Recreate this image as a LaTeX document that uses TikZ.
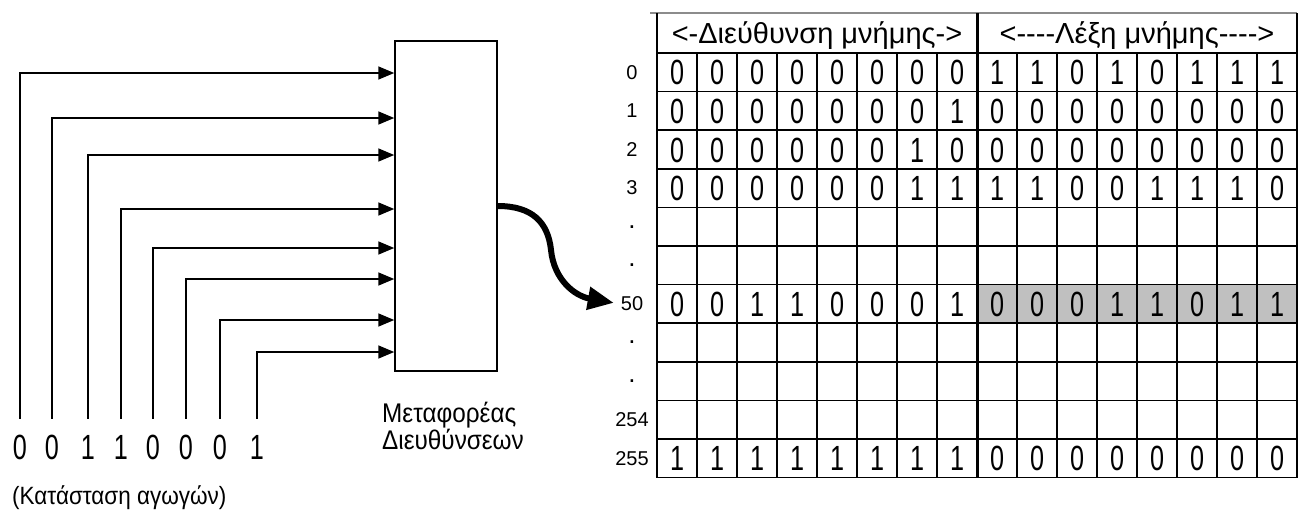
\documentclass[tikz,border=0pt]{standalone}
\usepackage{fontspec}
\setmainfont{Liberation Sans}
\newfontfamily\digitfont{Liberation Sans}[FakeStretch=0.72]
\newfontfamily\labelfont{Liberation Sans}[FakeStretch=0.9]
\usetikzlibrary{arrows.meta}
\definecolor{rowgray}{RGB}{192,192,192}
\newcommand\hy{\mbox{-}}

\begin{document}
\begin{tikzpicture}[x=1pt,y=-1pt,
  tablerule/.style={line width=1.5pt,draw=black},
  wire/.style={line width=1.6pt,-{Triangle[length=16pt,width=13pt]}},
  cellnum/.style={font=\digitfont\fontsize{35}{35}\selectfont,inner sep=0pt,text height=25pt,text depth=0pt},
  bitnum/.style={cellnum,outer ysep=16pt},
  rowlab/.style={font=\fontsize{20}{20}\selectfont,inner sep=1pt},
  rowdot/.style={font=\fontsize{26}{26}\selectfont,inner sep=0pt},
  greek/.style={font=\labelfont\fontsize{25}{25}\selectfont,inner sep=0pt},
  captext/.style={font=\labelfont\fontsize{27}{27}\selectfont,inner sep=0pt},
  headtext/.style={font=\fontsize{29}{29}\selectfont,inner sep=0pt},
  ]
\fill[white] (0,0) rectangle (1301,512);
\useasboundingbox (0,0) rectangle (1301,512);

% one row of memory cells: #1 = row index, #2 = the sixteen bits
\newcommand\cellrow[2]{%
  \foreach \v [count=\c from 0] in {#2}
    \node[cellnum] (c-#1-\c) at ({677+40*\c},{72.3+38.6*#1}) {\v};}

% ---------- address bus input ----------
\node[draw,line width=1.5pt,minimum width=102pt,minimum height=330pt,inner sep=0pt] (box) at (446,206) {};
\foreach \x/\b/\y [count=\i] in {20/0/73,52/0/118,88/1/155,121/1/209,153/0/248,186/0/279,220/0/320,257/1/352} {
  \node[bitnum] (bit\i) at (\x,447) {\b};
  \coordinate (in\i) at (box.west |- 0,\y);
  \draw[wire] (bit\i.north) |- (in\i);
}
\node[captext,anchor=base west] (cap1) at (382,422) {Μεταφορέας};
\node[captext,anchor=base west] (cap2) at (382,449) {Διευθύνσεων};
\node[greek,anchor=base west] (status) at (12,504) {(Κατάσταση αγωγών)};

% ---------- memory table ----------
\fill[rowgray] (977,284.6) rectangle (1297,323.2);
\foreach \k in {0,...,11}
  \draw[tablerule] (657,{53+38.6*\k}) -- (1297,{53+38.6*\k});
\draw[line width=1.5pt,draw=black!45] (650,13) -- (1297,13);
\foreach \c in {1,...,7,9,10,...,15}
  \draw[tablerule] ({657+40*\c},53) -- ({657+40*\c},477.6);
\draw[tablerule] (657,13) -- (657,477.6);
\draw[tablerule] (1297,13) -- (1297,477.6);
\draw[line width=3pt] (977,13) -- (977,477.6);

\node[headtext,anchor=base] (haddr) at (817,43) {<\hy Διεύθυνση μνήμης\hy>};
\node[headtext,anchor=base] (hword) at (1137,43) {<\hy\hy\hy\hy Λέξη μνήμης\hy\hy\hy\hy>};

\cellrow{0}{0,0,0,0,0,0,0,0,1,1,0,1,0,1,1,1}
\cellrow{1}{0,0,0,0,0,0,0,1,0,0,0,0,0,0,0,0}
\cellrow{2}{0,0,0,0,0,0,1,0,0,0,0,0,0,0,0,0}
\cellrow{3}{0,0,0,0,0,0,1,1,1,1,0,0,1,1,1,0}
\cellrow{6}{0,0,1,1,0,0,0,1,0,0,0,1,1,0,1,1}
\cellrow{10}{1,1,1,1,1,1,1,1,0,0,0,0,0,0,0,0}

% row addresses
\foreach \r/\t in {0/0,1/1,2/2,3/3,6/50,9/254,10/255}
  \node[rowlab] (r\r) at (632,{72.3+38.6*\r}) {\t};
\foreach \r in {4,5,7,8}
  \node[rowdot] (r\r) at (632,{72.3+38.6*\r}) {.};

% selected address
\draw[line width=6pt,-{Triangle[length=26pt,width=22pt]},shorten >=6pt]
  (box.east) .. controls (532,206) and (548,222) .. (551,250)
             .. controls (554,280) and (575,296) .. (r6.west);
\end{tikzpicture}
\end{document}
